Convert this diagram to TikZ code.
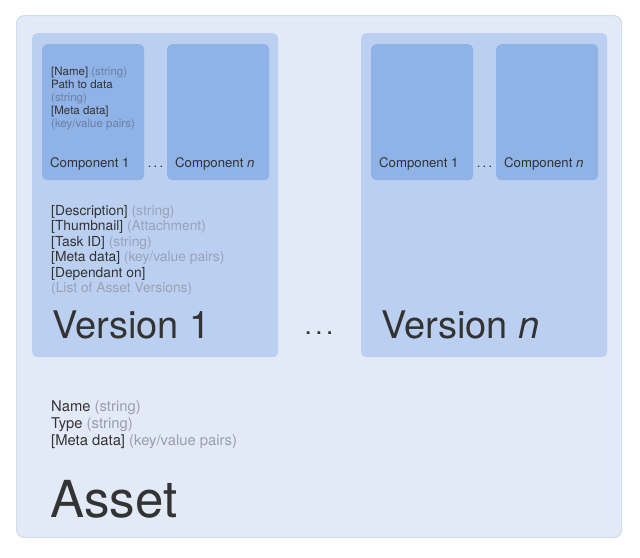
\documentclass[tikz,border=0pt]{standalone}
\usepackage{fontspec}
\setmainfont{TeX Gyre Heros}
\definecolor{assetfill}{HTML}{E3EAF7}
\definecolor{assetline}{HTML}{D3DCEC}
\definecolor{versionfill}{HTML}{BBCFF0}
\definecolor{compfill}{HTML}{8FB2E7}
\definecolor{darktext}{HTML}{333333}
\definecolor{greyasset}{HTML}{9A9EA8}
\definecolor{greyversion}{HTML}{98A3B8}
\definecolor{greycomp}{HTML}{6C80A4}
\newcommand{\wdots}[1]{.\hspace{#1}.\hspace{#1}.}
\tikzset{
  assetbox/.style={shape=rectangle,rounded corners=8pt,fill=assetfill,draw=assetline,line width=1.2pt,anchor=north west,minimum width=605pt,minimum height=522pt},
  versionbox/.style={shape=rectangle,rounded corners=5pt,fill=versionfill,anchor=north west,minimum width=246pt,minimum height=324pt},
  compbox/.style={shape=rectangle,rounded corners=5pt,fill=compfill,anchor=north west,minimum width=102pt,minimum height=136pt},
  txt/.style={anchor=base west,inner sep=0pt,text=darktext},
  comptxt/.style={txt,font=\fontsize{11.5}{13}\selectfont},
  complabel/.style={txt,font=\fontsize{13.2}{15}\selectfont},
  versiontxt/.style={txt,font=\fontsize{13.8}{15.5}\selectfont},
  assettxt/.style={txt,font=\fontsize{14.8}{17}\selectfont},
  dots/.style={anchor=base,inner sep=0pt,text=darktext}
}
\begin{document}
\begin{tikzpicture}[x=1pt,y=-1pt]
\useasboundingbox (0,0) rectangle (640,557);
% boxes
\node[assetbox] (A) at (16,15) {};
\node[versionbox] (V1) at (32,33) {};
\node[versionbox] (Vn) at (361,33) {};
\node[compbox] (C11) at (42,44) {};
\node[compbox] (C1n) at (167,44) {};
\node[compbox] (Cn1) at (371,44) {};
\node[compbox] (Cnn) at (496,44) {};

% component 1 of version 1
\node[comptxt] (c1) at (51,75) {[Name] \textcolor{greycomp}{(string)}};
\node[comptxt] (c2) at (51,88) {Path to data};
\node[comptxt] (c3) at (51,101) {\textcolor{greycomp}{(string)}};
\node[comptxt] (c4) at (51,114) {[Meta data]};
\node[comptxt] (c5) at (51,127) {\textcolor{greycomp}{(key/value pairs)}};

% component labels
\node[complabel] (l11) at (50,167) {Component 1};
\node[complabel] (l1n) at (175,167) {Component \textit{n}};
\node[complabel] (ln1) at (379,167) {Component 1};
\node[complabel] (lnn) at (504,167) {Component \textit{n}};
\node[dots,font=\fontsize{13}{15}\selectfont] (d1) at (155.5,167) {\wdots{2.2pt}};
\node[dots,font=\fontsize{13}{15}\selectfont] (d2) at (484.5,167) {\wdots{2.2pt}};

% version 1 attributes
\node[versiontxt] (v1) at (51,215) {[Description] \textcolor{greyversion}{(string)}};
\node[versiontxt] (v2) at (51,230.5) {[Thumbnail] \textcolor{greyversion}{(Attachment)}};
\node[versiontxt] (v3) at (51,246) {[Task ID] \textcolor{greyversion}{(string)}};
\node[versiontxt] (v4) at (51,261.5) {[Meta data] \textcolor{greyversion}{(key/value pairs)}};
\node[versiontxt] (v5) at (51,277) {[Dependant on]};
\node[versiontxt] (v6) at (51,292.5) {\textcolor{greyversion}{(List of Asset Versions)}};

% version titles
\node[txt,font=\fontsize{38}{42}\selectfont] (t1) at (52,338) {Version 1};
\node[txt,font=\fontsize{38}{42}\selectfont] (tn) at (381,338) {Version \textit{n}};
\node[dots,font=\fontsize{26}{30}\selectfont] (d3) at (319,334) {\wdots{3.5pt}};

% asset attributes
\node[assettxt] (a1) at (51,411.5) {Name \textcolor{greyasset}{(string)}};
\node[assettxt] (a2) at (51,428.5) {Type \textcolor{greyasset}{(string)}};
\node[assettxt] (a3) at (51,445.5) {[Meta data] \textcolor{greyasset}{(key/value pairs)}};
\node[txt,font=\fontsize{51}{56}\selectfont] (t0) at (50,517) {Asset};
\end{tikzpicture}
\end{document}
